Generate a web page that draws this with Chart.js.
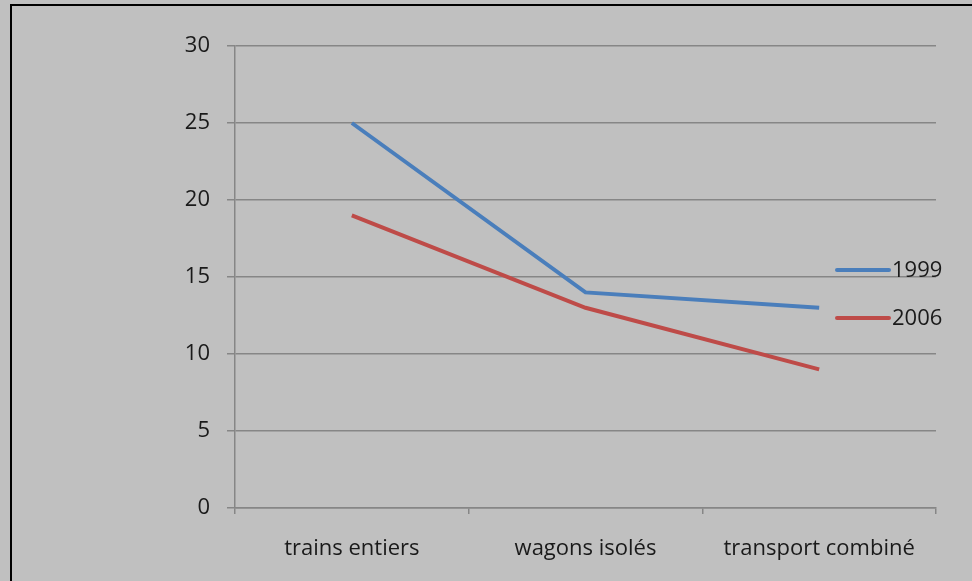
<!DOCTYPE html>
<html>
<head>
<meta charset="utf-8">
<script src="https://cdn.jsdelivr.net/npm/chart.js@4/dist/chart.umd.min.js"></script>
<style>
  html, body { margin: 0; padding: 0; background: #c0c0c0; width: 972px; height: 581px; overflow: hidden; }
  #frame { position: absolute; left: 10px; top: 4px; width: 980px; height: 600px; border-left: 2px solid #000; border-top: 2px solid #000; box-sizing: border-box; }
  #wrap { position: absolute; left: 0; top: 0; width: 972px; height: 581px; }
</style>
</head>
<body>
<div id="frame"></div>
<div id="wrap"><canvas id="c" width="972" height="581"></canvas></div>
<script>
const categories = ["trains entiers", "wagons isolés", "transport combiné"];
const seriesLabels = ["1999", "2006"];
const values1999 = [25, 14, 13];
const values2006 = [19, 13, 9];
const yTicks = [0, 5, 10, 15, 20, 25, 30];

const FONT = "'Open Sans', sans-serif";
const FSIZE = 22;
const colors = ["#4a7ebb", "#be4b48"];

const sideLegend = {
  id: "sideLegend",
  afterDraw(chart) {
    const ctx = chart.ctx;
    const ys = [270, 318];
    chart.data.datasets.forEach((ds, i) => {
      ctx.save();
      ctx.strokeStyle = ds.borderColor;
      ctx.lineWidth = 4;
      ctx.lineCap = "round";
      ctx.beginPath();
      ctx.moveTo(837, ys[i]);
      ctx.lineTo(889, ys[i]);
      ctx.stroke();
      ctx.fillStyle = "#1a1a1a";
      ctx.font = FSIZE + "px " + FONT;
      ctx.textAlign = "left";
      ctx.textBaseline = "middle";
      ctx.fillText(ds.label, 892, ys[i] + 1);
      ctx.restore();
    });
  }
};

new Chart(document.getElementById("c"), {
  type: "line",
  data: {
    labels: categories,
    datasets: [
      { label: seriesLabels[0], data: values1999, borderColor: colors[0], backgroundColor: colors[0], borderWidth: 4, pointRadius: 0, tension: 0, fill: false },
      { label: seriesLabels[1], data: values2006, borderColor: colors[1], backgroundColor: colors[1], borderWidth: 4, pointRadius: 0, tension: 0, fill: false }
    ]
  },
  options: {
    responsive: false,
    animation: false,
    devicePixelRatio: 1,
    layout: { padding: { left: 0, right: 36, top: 46, bottom: 0 } },
    plugins: { legend: { display: false }, tooltip: { enabled: false } },
    scales: {
      x: {
        offset: true,
        grid: { offset: true, drawOnChartArea: false, drawTicks: true, tickLength: 6, color: "#868686", lineWidth: 1.5 },
        border: { display: true, color: "#868686", width: 1.5 },
        ticks: { color: "#1a1a1a", font: { family: FONT, size: FSIZE }, padding: 22, maxRotation: 0, autoSkip: false },
        afterFit(s) { s.height = 73; }
      },
      y: {
        min: 0, max: 30,
        afterBuildTicks(s) { s.ticks = yTicks.map(v => ({ value: v })); },
        grid: { color: "#868686", lineWidth: 1.5, tickLength: 8, drawTicks: true },
        border: { display: true, color: "#868686", width: 1.5 },
        ticks: { color: "#1a1a1a", font: { family: FONT, size: FSIZE }, padding: 17 },
        afterFit(s) { s.width = 235; }
      }
    }
  },
  plugins: [sideLegend]
});
</script>
</body>
</html>
